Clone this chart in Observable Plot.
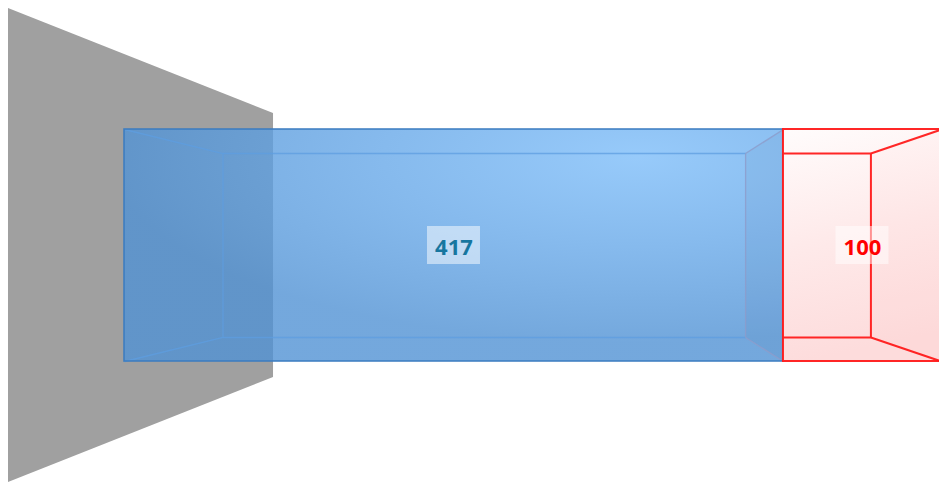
<!DOCTYPE html>
<html><head><meta charset="utf-8">
<script src="https://cdn.jsdelivr.net/npm/d3@7"></script>
<script src="https://cdn.jsdelivr.net/npm/@observablehq/plot@0.6"></script>
<style>html,body{margin:0;padding:0;background:#fff;overflow:hidden}</style>
</head><body><div id="chart"></div>
<script>
// ---- data ----
const segments = ["Segment A", "Segment B"];
const values = [417, 100];
const labels = ["417", "100"];

// ---- style / perspective parameters ----
const W = 939, H = 482;
const depth = 0.793;          // back face scale relative to front face
const vanishFrac = 0.5826;    // vanishing point as fraction of the total
const fills = ["url(#gradBlue)", "url(#gradRed)"];
const fillOpacity = [0.8, 1];
const outerStroke = ["#3b7bc0", "#ff1a1a"];
const innerStroke = ["#5d9de0", "#ff1a1a"];
const sideStroke = ["#8f9ccb", "#ff1a1a"];
const textColor = ["#17769f", "#ff0000"];

const total = d3.sum(values);
const vx = total * vanishFrac;
const proj = x => vx + (x - vx) * depth;

let acc = 0;
const bars = values.map((v, i) => {
  const x0 = acc; acc += v; const x1 = acc;
  return {name: segments[i], value: v, label: labels[i], i, x0, x1,
    xi0: Math.max(x0, proj(x0)), xi1: Math.min(x1, proj(x1)),
    mid: (x0 + x1) / 2, y1: -1, y2: 1};
});

// edges of each 3D box
const edges = [];
bars.forEach(b => {
  const k = depth;
  edges.push({i: b.i, kind: "inner", x1: b.xi0, y1: k, x2: b.xi1, y2: k});
  edges.push({i: b.i, kind: "inner", x1: b.xi0, y1: -k, x2: b.xi1, y2: -k});
  if (b.i === 0) {
    edges.push({i: b.i, kind: "inner", x1: b.xi0, y1: -k, x2: b.xi0, y2: k});
    edges.push({i: b.i, kind: "inner", x1: b.x0, y1: 1, x2: b.xi0, y2: k});
    edges.push({i: b.i, kind: "inner", x1: b.x0, y1: -1, x2: b.xi0, y2: -k});
  }
  edges.push({i: b.i, kind: "side", x1: b.xi1, y1: -k, x2: b.xi1, y2: k});
  edges.push({i: b.i, kind: "side", x1: b.xi1, y1: k, x2: b.x1, y2: 1});
  edges.push({i: b.i, kind: "side", x1: b.xi1, y1: -k, x2: b.x1, y2: -1});
});

// right side face of each box (shading)
const sideFaces = bars.flatMap(b => [
  {i: b.i, x: b.xi1, y1: -depth, y2: depth},
  {i: b.i, x: b.x1, y1: -1, y2: 1}
]);

// the grey back wall (perspective plane)
const wall = [
  {x: -total * 0.142, y1: -2.043, y2: 2.043},
  {x: total * 0.1824, y1: -1.138, y2: 1.138}
];

const marks = [
  Plot.areaY(wall, {x: "x", y1: "y1", y2: "y2", fill: "#a0a0a0"})
];
bars.forEach(b => {
  const i = b.i;
  marks.push(
    Plot.rect([b], {x1: "x0", x2: "x1", y1: "y1", y2: "y2", fill: fills[i], fillOpacity: fillOpacity[i]}),
    Plot.areaY(sideFaces.filter(d => d.i === i), {x: "x", y1: "y1", y2: "y2", fill: i === 0 ? "#2a5a90" : "#ff8080", fillOpacity: i === 0 ? 0.07 : 0.03}),
    Plot.link(edges.filter(e => e.i === i && e.kind === "inner"), {x1: "x1", y1: "y1", x2: "x2", y2: "y2", stroke: innerStroke[i], strokeWidth: i === 0 ? 1.3 : 2, strokeOpacity: i === 0 ? 0.75 : 0.95}),
    Plot.link(edges.filter(e => e.i === i && e.kind === "side"), {x1: "x1", y1: "y1", x2: "x2", y2: "y2", stroke: sideStroke[i], strokeWidth: i === 0 ? 1.3 : 2, strokeOpacity: i === 0 ? 0.8 : 0.95}),
    Plot.rect([b], {x1: "x0", x2: "x1", y1: "y1", y2: "y2", fill: "none", stroke: outerStroke[i], strokeWidth: i === 0 ? 1.6 : 2, strokeOpacity: 0.95})
  );
});
bars.forEach(b => {
  marks.push(
    Plot.rect([b], {x1: "mid", x2: "mid", y1: 0, y2: 0, fill: "white", fillOpacity: 0.5,
      insetLeft: -26.5, insetRight: -26.5, insetTop: -19, insetBottom: -19}),
    Plot.text([b], {x: "mid", y: 0, text: "label", fill: textColor[b.i], fontFamily: "Open Sans",
      fontWeight: "bold", fontSize: 22, dy: 2})
  );
});

const chart = Plot.plot({
  width: W, height: H, margin: 0,
  x: {domain: [0, total], range: [124, 941], axis: null},
  y: {domain: [-1, 1], range: [361, 129], axis: null},
  style: {background: "white", overflow: "visible"},
  marks
});

d3.select(chart).insert("defs", ":first-child").html(`
  <radialGradient id="gradBlue" cx="0.78" cy="0.12" r="0.8" fx="0.78" fy="0.12">
    <stop offset="0" stop-color="#7dbdf9"/>
    <stop offset="0.5" stop-color="#67a8e8"/>
    <stop offset="1" stop-color="#5192d4"/>
  </radialGradient>
  <linearGradient id="gradRed" x1="0" y1="0" x2="0.15" y2="1">
    <stop offset="0" stop-color="#fffcfc"/>
    <stop offset="0.5" stop-color="#feeaea"/>
    <stop offset="1" stop-color="#fddcdc"/>
  </linearGradient>`);

document.getElementById("chart").appendChild(chart);
</script>
</body></html>
